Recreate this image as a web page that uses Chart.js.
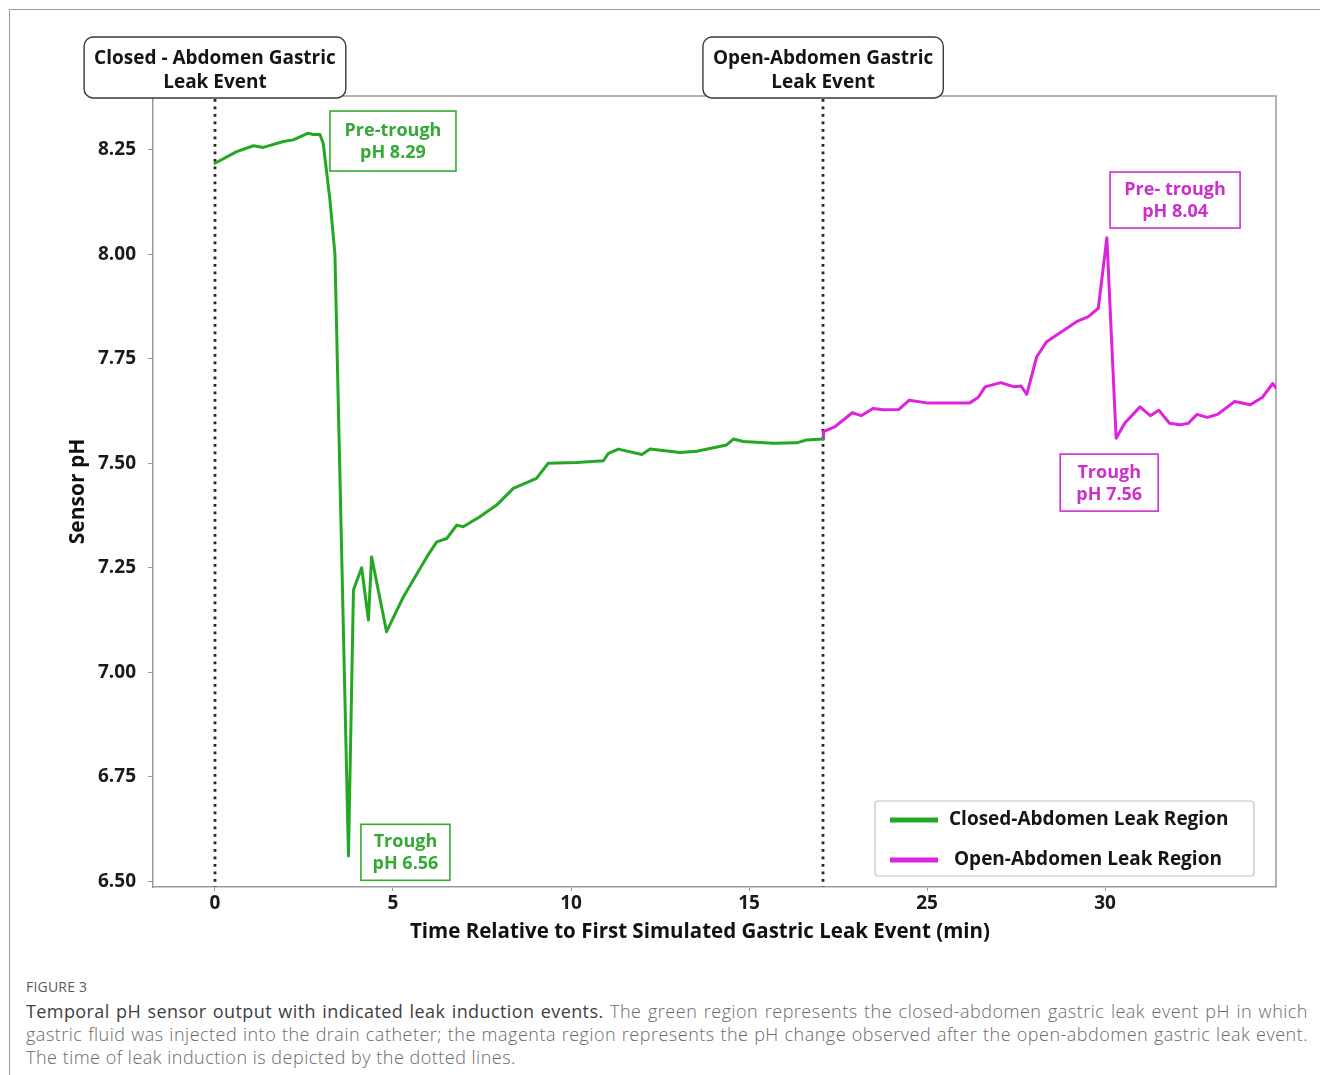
<!DOCTYPE html>
<html>
<head>
<meta charset="utf-8">
<script src="https://cdn.jsdelivr.net/npm/chart.js@4.4.0/dist/chart.umd.min.js"></script>
<style>
  html, body { margin: 0; padding: 0; background: #fff; }
  body { width: 1320px; height: 1075px; position: relative; overflow: hidden; }
  #frame { position: absolute; left: 9px; top: 9px; right: -2px; bottom: -2px;
           border-top: 1px solid #9a9a9a; border-left: 1px solid #9a9a9a; }
  #wrap { position: absolute; left: 0; top: 0; width: 1320px; height: 960px; }
  #cap { position: absolute; left: 26px; top: 977px; width: 1282px;
         font-family: "Open Sans", sans-serif; color: #6a6a6a; }
  #cap .fig { font-size: 14px; line-height: 20px; color: #5a5a5a; letter-spacing: 0.2px; }
  #cap .ln { font-size: 18px; line-height: 23px; font-weight: 300; letter-spacing: 0.5px; white-space: nowrap; }
  #cap .first { margin-top: 3px; }
  #cap .j { text-align: justify; text-align-last: justify; }
  #cap .t { color: #404040; font-weight: 400; letter-spacing: 0.4px; }
</style>
</head>
<body>
<div id="frame"></div>
<div id="wrap"><canvas id="c" width="1320" height="960"></canvas></div>
<div id="cap">
  <div class="fig">FIGURE 3</div>
  <div class="ln j first"><span class="t">Temporal pH sensor output with indicated leak induction events.</span> The green region represents the closed-abdomen gastric leak event pH in which</div>
  <div class="ln j">gastric fluid was injected into the drain catheter; the magenta region represents the pH change observed after the open-abdomen gastric leak event.</div>
  <div class="ln">The time of leak induction is depicted by the dotted lines.</div>
</div>
<script>
// ---- data -------------------------------------------------------------
const closedTime = [0, 0.61, 1.08, 1.36, 1.92, 2.2, 2.62, 2.76, 2.95, 3.04, 3.23, 3.37,
  3.75, 3.89, 4.12, 4.31, 4.4, 4.82, 5.29, 5.95, 6.23, 6.51, 6.79, 6.97, 7.44, 7.91,
  8.38, 9.03, 9.36, 10.16, 10.91, 11.05, 11.33, 11.99, 12.22, 13.06, 13.53, 14.37,
  14.56, 14.84, 15.68, 16.34, 16.62, 17.08];
const closedPH = [8.218, 8.246, 8.26, 8.256, 8.27, 8.274, 8.29, 8.287, 8.287, 8.266, 8.13, 8.0,
  6.56, 7.197, 7.25, 7.125, 7.276, 7.097, 7.18, 7.276, 7.312, 7.32, 7.352, 7.348, 7.372, 7.40,
  7.44, 7.464, 7.50, 7.502, 7.506, 7.524, 7.534, 7.521, 7.534, 7.526, 7.529, 7.544,
  7.558, 7.552, 7.548, 7.549, 7.556, 7.558];

const openTime = [17.08, 17.09, 17.42, 17.9, 18.15, 18.48, 18.77, 19.21, 19.5, 20.03, 21.19,
  21.44, 21.63, 22.07, 22.45, 22.64, 22.8, 23.08, 23.36, 23.64, 24.2, 24.53, 24.81, 25.05,
  25.31, 25.55, 25.98, 26.27, 26.51, 26.81, 27.1, 27.34, 27.58, 27.87, 28.16, 28.64, 29.08,
  29.42, 29.71, 29.8];
const openPH = [7.558, 7.576, 7.588, 7.621, 7.614, 7.631, 7.628, 7.629, 7.651, 7.644, 7.644,
  7.658, 7.683, 7.693, 7.683, 7.685, 7.665, 7.755, 7.791, 7.807, 7.839, 7.851, 7.871, 8.04,
  7.56, 7.596, 7.635, 7.614, 7.627, 7.596, 7.592, 7.596, 7.617, 7.61, 7.617, 7.648, 7.64,
  7.658, 7.691, 7.68];

const seriesNames = ['Closed-Abdomen Leak Region', 'Open-Abdomen Leak Region'];

// leak induction events (time, two-line caption)
const eventTimes = [0, 17.08];
const eventLabels = [['Closed - Abdomen Gastric', 'Leak Event'], ['Open-Abdomen Gastric', 'Leak Event']];

// axis ticks and titles
const xTickValues = [0, 5, 10, 15, 20, 25];
const xTickLabels = ['0', '5', '10', '15', '25', '30'];
const yTickValues = [6.5, 6.75, 7.0, 7.25, 7.5, 7.75, 8.0, 8.25];
const xTitle = 'Time Relative to First Simulated Gastric Leak Event (min)';
const yTitle = 'Sensor pH';

// ---- styling -----------------------------------------------------------
const FONT = '"Open Sans", "Noto Sans", sans-serif';
const GREEN = 'rgb(36,168,36)';
const GREEN_TXT = 'rgb(52,170,52)';
const MAGENTA = 'rgb(222,34,222)';
const MAGENTA_TXT = 'rgb(204,48,204)';
const AXIS = '#9a9a9a';

const peakIdx = a => a.indexOf(Math.max(...a));
const cPeak = peakIdx(closedPH);
const cTrough = closedPH.indexOf(Math.min(...closedPH.slice(cPeak)));
const oPeak = peakIdx(openPH);
const oAfter = openPH.slice(oPeak);
const oTrough = oPeak + oAfter.indexOf(Math.min(...oAfter));

// callout boxes: anchored in data space (left time, top pH), size in px
const callouts = [
  { lines: ['Pre-trough', 'pH ' + closedPH[cPeak].toFixed(2)], color: GREEN_TXT, x: 3.23, y: 8.343, w: 126, h: 60 },
  { lines: ['Trough', 'pH ' + closedPH[cTrough].toFixed(2)], color: GREEN_TXT, x: 4.10, y: 6.636, w: 89, h: 56 },
  { lines: ['Pre- trough', 'pH ' + openPH[oPeak].toFixed(2)], color: MAGENTA_TXT, x: 25.14, y: 8.197, w: 130, h: 56 },
  { lines: ['Trough', 'pH ' + openPH[oTrough].toFixed(2)], color: MAGENTA_TXT, x: 23.74, y: 7.522, w: 98, h: 57 }
];

function roundRect(ctx, x, y, w, h, r) {
  ctx.beginPath();
  ctx.moveTo(x + r, y);
  ctx.lineTo(x + w - r, y);
  ctx.arcTo(x + w, y, x + w, y + r, r);
  ctx.lineTo(x + w, y + h - r);
  ctx.arcTo(x + w, y + h, x + w - r, y + h, r);
  ctx.lineTo(x + r, y + h);
  ctx.arcTo(x, y + h, x, y + h - r, r);
  ctx.lineTo(x, y + r);
  ctx.arcTo(x, y, x + r, y, r);
  ctx.closePath();
}

const overlay = {
  id: 'overlay',
  beforeDatasetsDraw(chart) {
    const { ctx, chartArea: a, scales: { x } } = chart;
    ctx.save();
    // top and right frame of the plot
    ctx.strokeStyle = AXIS;
    ctx.lineWidth = 1.5;
    ctx.beginPath();
    ctx.moveTo(a.left, a.top);
    ctx.lineTo(a.right, a.top);
    ctx.lineTo(a.right, a.bottom);
    ctx.stroke();
    // dotted event lines
    ctx.strokeStyle = '#262626';
    ctx.lineWidth = 2.8;
    ctx.setLineDash([2.8, 4.7]);
    eventTimes.forEach(t => {
      const px = Math.round(x.getPixelForValue(t));
      ctx.beginPath();
      ctx.moveTo(px, a.top + 3);
      ctx.lineTo(px, a.bottom);
      ctx.stroke();
    });
    ctx.restore();
  },
  afterDatasetsDraw(chart) {
    const { ctx, chartArea: a, scales: { x, y } } = chart;
    ctx.save();
    ctx.textAlign = 'center';
    ctx.textBaseline = 'middle';

    // x axis title, centred under the plot
    ctx.font = 'bold 20.5px ' + FONT;
    ctx.fillStyle = '#111';
    ctx.fillText(xTitle, 700, 932);

    // event caption boxes
    ctx.font = 'bold 19px ' + FONT;
    eventTimes.forEach((t, i) => {
      const cx = x.getPixelForValue(t);
      const tw = Math.max(...eventLabels[i].map(s => ctx.measureText(s).width));
      const w = tw + 20, h = 61, top = 37;
      roundRect(ctx, cx - w / 2, top, w, h, 9);
      ctx.fillStyle = '#fff';
      ctx.fill();
      ctx.strokeStyle = '#3a3a3a';
      ctx.lineWidth = 1.4;
      ctx.stroke();
      ctx.fillStyle = '#151515';
      ctx.fillText(eventLabels[i][0], cx, top + 22);
      ctx.fillText(eventLabels[i][1], cx, top + 46);
    });

    // value callouts
    ctx.font = 'bold 18px ' + FONT;
    callouts.forEach(c => {
      const l = x.getPixelForValue(c.x), t = y.getPixelForValue(c.y);
      ctx.fillStyle = '#fff';
      ctx.fillRect(l, t, c.w, c.h);
      ctx.strokeStyle = c.color;
      ctx.lineWidth = 1.6;
      ctx.strokeRect(l, t, c.w, c.h);
      ctx.fillStyle = c.color;
      const cx = l + c.w / 2;
      ctx.fillText(c.lines[0], cx, t + c.h / 2 - 10);
      ctx.fillText(c.lines[1], cx, t + c.h / 2 + 12);
    });

    // legend
    const lx = 875, ly = 801, lw = 379, lh = 75;
    roundRect(ctx, lx, ly, lw, lh, 3);
    ctx.fillStyle = '#fff';
    ctx.fill();
    ctx.strokeStyle = '#c4c4c4';
    ctx.lineWidth = 1.2;
    ctx.stroke();
    ctx.font = 'bold 19px ' + FONT;
    ctx.textAlign = 'left';
    chart.data.datasets.forEach((ds, i) => {
      const rowY = ly + 19 + i * 40;
      ctx.strokeStyle = ds.borderColor;
      ctx.lineWidth = 5;
      ctx.beginPath();
      ctx.moveTo(lx + 15, rowY);
      ctx.lineTo(lx + 63, rowY);
      ctx.stroke();
      ctx.fillStyle = '#151515';
      ctx.fillText(ds.label, lx + 74 + i * 5, rowY);
    });
    ctx.restore();
  }
};

const toPoints = (xs, ys) => xs.map((v, i) => ({ x: v, y: ys[i] }));

new Chart(document.getElementById('c'), {
  type: 'line',
  data: {
    datasets: [
      { label: seriesNames[0], data: toPoints(closedTime, closedPH), borderColor: GREEN,
        borderWidth: 3, pointRadius: 0, tension: 0, borderJoinStyle: 'round', borderCapStyle: 'round' },
      { label: seriesNames[1], data: toPoints(openTime, openPH), borderColor: MAGENTA,
        borderWidth: 3, pointRadius: 0, tension: 0, borderJoinStyle: 'round', borderCapStyle: 'round' }
    ]
  },
  options: {
    responsive: false,
    animation: false,
    devicePixelRatio: 1,
    layout: { padding: { left: 65, top: 96, right: 44, bottom: 0 } },
    plugins: { legend: { display: false }, tooltip: { enabled: false } },
    scales: {
      x: {
        type: 'linear',
        min: -1.74,
        max: 29.8,
        afterBuildTicks: s => { s.ticks = xTickValues.map(v => ({ value: v })); },
        afterFit: s => { s.height = 73; },
        ticks: {
          autoSkip: false,
          maxRotation: 0,
          callback: (v, i) => xTickLabels[i],
          font: { family: FONT, weight: 'bold', size: 19 },
          color: '#1a1a1a',
          padding: 1
        },
        grid: { drawOnChartArea: false, tickLength: 4, color: AXIS },
        border: { color: AXIS, width: 1.5 },
        title: { display: false }
      },
      y: {
        type: 'linear',
        min: 6.486,
        max: 8.379,
        afterBuildTicks: s => { s.ticks = yTickValues.map(v => ({ value: v })); },
        afterFit: s => { s.width = 88; },
        ticks: {
          callback: v => Number(v).toFixed(2),
          font: { family: FONT, weight: 'bold', size: 19 },
          color: '#1a1a1a',
          padding: 12
        },
        grid: { drawOnChartArea: false, tickLength: 5, color: AXIS },
        border: { color: AXIS, width: 1.5 },
        title: {
          display: true,
          text: yTitle,
          font: { family: FONT, weight: 'bold', size: 21 },
          color: '#111',
          padding: { top: 0, bottom: 0 }
        }
      }
    }
  },
  plugins: [overlay]
});
</script>
</body>
</html>
